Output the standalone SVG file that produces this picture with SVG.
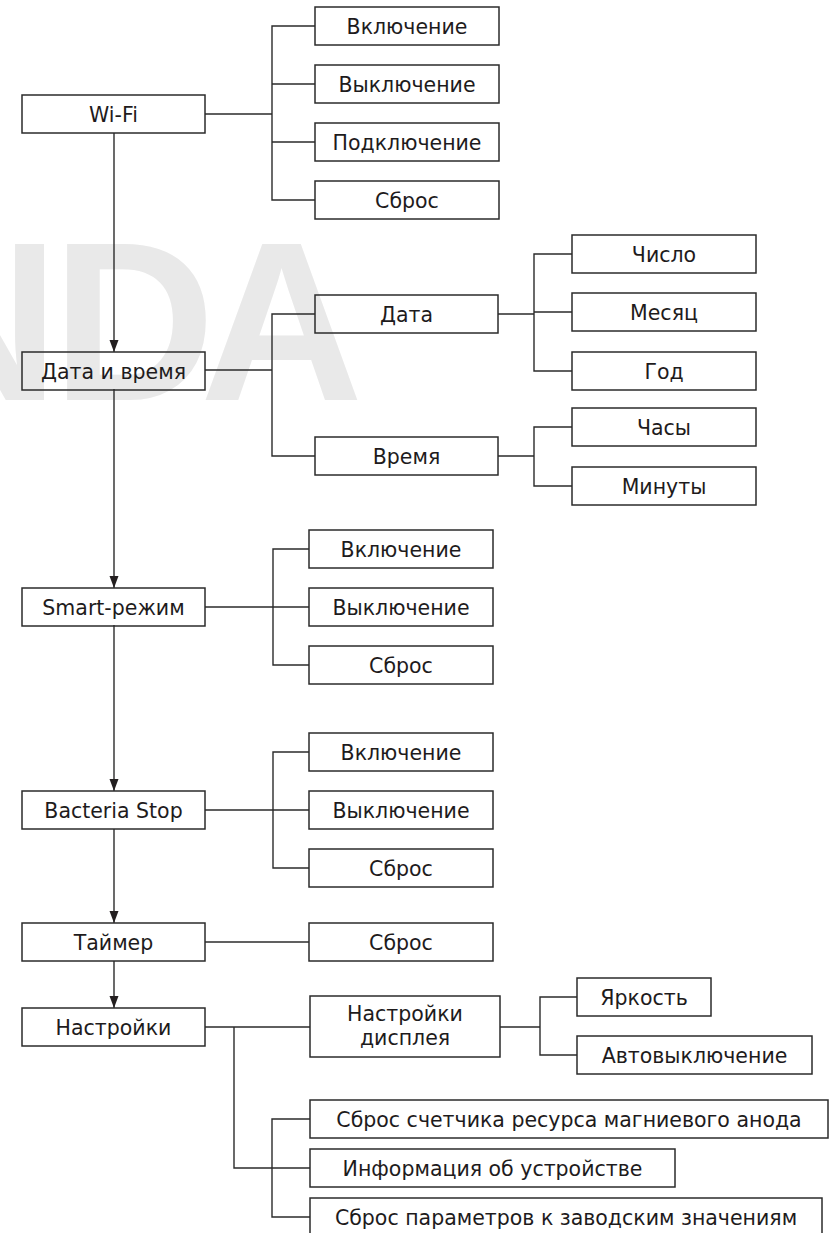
<svg xmlns="http://www.w3.org/2000/svg" width="829" height="1233" viewBox="0 0 829 1233">
<style>
.bx{fill:none;stroke:#2b2b2b;stroke-width:1.5}
.t{font-family:"DejaVu Sans",sans-serif;font-size:20.5px;fill:#1e1b1c;text-anchor:middle}
.ln{fill:none;stroke:#2b2b2b;stroke-width:1.4}
.wm{font-family:"Liberation Sans",Arial,sans-serif;font-weight:bold;font-size:226px;fill:#e9e9e9}
</style>
<defs>
<marker id="ah" markerUnits="userSpaceOnUse" markerWidth="12" markerHeight="10" refX="12" refY="5" orient="auto">
<path d="M0,0.5 L12,5 L0,9.5 z" fill="#231f20"/>
</marker>
</defs>
<rect width="829" height="1233" fill="#fff"/>
<text class="wm" x="-104 52 200" y="400">NDA</text>
<g id="connectors">
<path class="ln" d="M114,133 V352" marker-end="url(#ah)"/>
<path class="ln" d="M114,389 V588" marker-end="url(#ah)"/>
<path class="ln" d="M114,625 V791" marker-end="url(#ah)"/>
<path class="ln" d="M114,829 V923" marker-end="url(#ah)"/>
<path class="ln" d="M114,961 V1008" marker-end="url(#ah)"/>
<path class="ln" d="M205,114 H272 M315,26 H272 V200 H315 M272,84 H315 M272,142 H315"/>
<path class="ln" d="M205,370 H272 M315,314 H272 V456 H315"/>
<path class="ln" d="M498,314 H534 M572,254 H534 V371 H572 M534,312 H572"/>
<path class="ln" d="M498,456 H534 M572,427 H534 V486 H572"/>
<path class="ln" d="M205,607 H309 M309,549 H273 V665 H309"/>
<path class="ln" d="M205,810 H309 M309,752 H273 V868 H309"/>
<path class="ln" d="M205,942 H309"/>
<path class="ln" d="M205,1027 H310 M500,1027 H540 M577,997 H540 V1055 H577"/>
<path class="ln" d="M234,1027 V1168 H310 M310,1119 H272 V1217 H310"/>
</g>
<g id="wifi"><rect class="bx" x="22" y="95" width="183" height="38"/><text class="t" x="113.5" y="121.5">Wi-Fi</text></g>
<g id="wifi-on"><rect class="bx" x="315" y="7" width="184" height="38"/><text class="t" x="407" y="33.5">Включение</text></g>
<g id="wifi-off"><rect class="bx" x="315" y="65" width="184" height="38"/><text class="t" x="407" y="91.5">Выключение</text></g>
<g id="wifi-connect"><rect class="bx" x="315" y="123" width="184" height="38"/><text class="t" x="407" y="149.5">Подключение</text></g>
<g id="wifi-reset"><rect class="bx" x="315" y="181" width="184" height="38"/><text class="t" x="407" y="207.5">Сброс</text></g>
<g id="datetime"><rect class="bx" x="22" y="352" width="183" height="38"/><text class="t" x="113.5" y="378.5">Дата и время</text></g>
<g id="date"><rect class="bx" x="315" y="295" width="183" height="38"/><text class="t" x="406.5" y="321.5">Дата</text></g>
<g id="time"><rect class="bx" x="315" y="437" width="183" height="38"/><text class="t" x="406.5" y="463.5">Время</text></g>
<g id="day"><rect class="bx" x="572" y="235" width="184" height="38"/><text class="t" x="664" y="261.5">Число</text></g>
<g id="month"><rect class="bx" x="572" y="293" width="184" height="38"/><text class="t" x="664" y="319.5">Месяц</text></g>
<g id="year"><rect class="bx" x="572" y="352" width="184" height="38"/><text class="t" x="664" y="378.5">Год</text></g>
<g id="hours"><rect class="bx" x="572" y="408" width="184" height="38"/><text class="t" x="664" y="434.5">Часы</text></g>
<g id="minutes"><rect class="bx" x="572" y="467" width="184" height="38"/><text class="t" x="664" y="493.5">Минуты</text></g>
<g id="smart"><rect class="bx" x="22" y="588" width="183" height="38"/><text class="t" x="113.5" y="614.5">Smart-режим</text></g>
<g id="smart-on"><rect class="bx" x="309" y="530" width="184" height="38"/><text class="t" x="401" y="556.5">Включение</text></g>
<g id="smart-off"><rect class="bx" x="309" y="588" width="184" height="38"/><text class="t" x="401" y="614.5">Выключение</text></g>
<g id="smart-reset"><rect class="bx" x="309" y="646" width="184" height="38"/><text class="t" x="401" y="672.5">Сброс</text></g>
<g id="bacteria"><rect class="bx" x="22" y="791" width="183" height="38"/><text class="t" x="113.5" y="817.5">Bacteria Stop</text></g>
<g id="bacteria-on"><rect class="bx" x="309" y="733" width="184" height="38"/><text class="t" x="401" y="759.5">Включение</text></g>
<g id="bacteria-off"><rect class="bx" x="309" y="791" width="184" height="38"/><text class="t" x="401" y="817.5">Выключение</text></g>
<g id="bacteria-reset"><rect class="bx" x="309" y="849" width="184" height="38"/><text class="t" x="401" y="875.5">Сброс</text></g>
<g id="timer"><rect class="bx" x="22" y="923" width="183" height="38"/><text class="t" x="113.5" y="949.5">Таймер</text></g>
<g id="timer-reset"><rect class="bx" x="309" y="923" width="184" height="38"/><text class="t" x="401" y="949.5">Сброс</text></g>
<g id="settings"><rect class="bx" x="22" y="1008" width="183" height="38"/><text class="t" x="113.5" y="1034.5">Настройки</text></g>
<g id="display"><rect class="bx" x="310" y="996" width="190" height="61"/><text class="t" x="405" y="1021">Настройки</text><text class="t" x="405" y="1045">дисплея</text></g>
<g id="brightness"><rect class="bx" x="577" y="978" width="134" height="38"/><text class="t" x="644" y="1004.5">Яркость</text></g>
<g id="autooff"><rect class="bx" x="577" y="1036" width="235" height="38"/><text class="t" x="694.5" y="1062.5">Автовыключение</text></g>
<g id="anode"><rect class="bx" x="310" y="1100" width="518" height="38"/><text class="t" x="569" y="1126.5">Сброс счетчика ресурса магниевого анода</text></g>
<g id="info"><rect class="bx" x="310" y="1149" width="365" height="38"/><text class="t" x="492.5" y="1175.5">Информация об устройстве</text></g>
<g id="factory"><rect class="bx" x="310" y="1198" width="512" height="38"/><text class="t" x="566" y="1224.5">Сброс параметров к заводским значениям</text></g>
</svg>
